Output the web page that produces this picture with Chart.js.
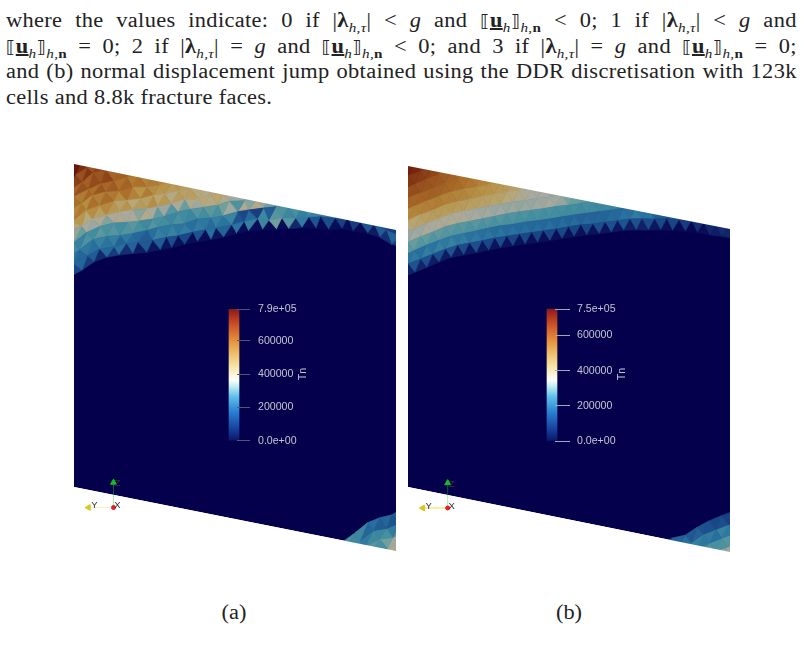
<!DOCTYPE html>
<html>
<head>
<meta charset="utf-8">
<title>Tn</title>
<script src="https://cdn.jsdelivr.net/npm/chart.js@4"></script>
<style>
    html, body { margin: 0; padding: 0; background: #fff; }
    #page { position: relative; width: 804px; height: 653px; overflow: hidden; }
    #page canvas { position: absolute; }
    .line {
        position: absolute; left: 6px; width: 706px; height: 26px; line-height: 26px;
        font-family: "Liberation Serif", serif; font-size: 20px; color: #222; letter-spacing: 0.3px;
        white-space: nowrap; text-align: justify; text-align-last: justify;
        transform-origin: left top; transform: scaleX(1.12);
    }
    .line.last { text-align-last: left; }
    .line sub { font-size: 13.5px; line-height: 0; }
    .caption {
        position: absolute; width: 40px; text-align: center;
        font-family: "Liberation Serif", serif; font-size: 20px; color: #222;
        transform: scaleX(1.12);
    }
    .bk { font-family: "DejaVu Sans", sans-serif; font-size: 17px; }
</style>
</head>
<body>
<div id="page">
    <div class="line" style="top:7px">where the values indicate: 0 if |<b>λ</b><sub><i>h,τ</i></sub>| &lt; <i>g</i> and <span class="bk">⟦</span><u><b>u</b></u><sub><i>h</i></sub><span class="bk">⟧</span><sub><i>h,</i><b>n</b></sub> &lt; 0; 1 if |<b>λ</b><sub><i>h,τ</i></sub>| &lt; <i>g</i> and</div>
    <div class="line" style="top:33px"><span class="bk">⟦</span><u><b>u</b></u><sub><i>h</i></sub><span class="bk">⟧</span><sub><i>h,</i><b>n</b></sub> = 0; 2 if |<b>λ</b><sub><i>h,τ</i></sub>| = <i>g</i> and <span class="bk">⟦</span><u><b>u</b></u><sub><i>h</i></sub><span class="bk">⟧</span><sub><i>h,</i><b>n</b></sub> &lt; 0; and 3 if |<b>λ</b><sub><i>h,τ</i></sub>| = <i>g</i> and <span class="bk">⟦</span><u><b>u</b></u><sub><i>h</i></sub><span class="bk">⟧</span><sub><i>h,</i><b>n</b></sub> = 0;</div>
    <div class="line" style="top:58px">and (b) normal displacement jump obtained using the DDR discretisation with 123k</div>
    <div class="line last" style="top:84px">cells and 8.8k fracture faces.</div>
    <div class="caption" style="left:214px;top:601px">(a)</div>
    <div class="caption" style="left:549px;top:601px">(b)</div>
</div>

<script>
// Tn per triangle in thousands, one list per mesh row (row 0 sits on the rim of the open zone)
const aRow0 = [110,170,95,150,60,175,90,190,70,165,45,140,35,150,30,120,25,110,18,130,20,190,30,165,25,200,20,230,18,250,16,340,20,300,60,220,18,130,14,120,20,100,16,90,15,130,40,150,70,160,90];
const aRow1 = [200,170,215,190,235,200,225,160,210,180,175,150,190,230,215,240,205,225,190,220,210,180,230,200,245,130,110,175,95,255,150,300,290,250,280,230,270,240,260,220,210,180,190,170,150,130,140,110,120,90,100];
const aRow2 = [265,240,290,270,310,285,300,270,295,305,280,260,300,280,270,255,285,265,250,300,270,310,280,340,400,290,430,370,440,390,340,300,310,280,290,270,260,240,230,220,210];
const aRow3 = [385,330,410,395,430,360,425,440,410,420,370,445,410,320,395,300,420,330,440,400,470,450,480,440,420,400,380,350,360,340,330];
const aRow4 = [480,520,470,540,500,550,520,490,530,470,510,495,540,480,520,450,510,490,500,470,450,480,460,440,450];
const aRow5 = [550,575,540,590,565,600,575,545,590,560,530,570,540,520,530,510,520,500,510,490,500];
const aRow6 = [590,570,610,590,640,605,630,590,615,570,590,560,570,550,560,540,550];
const aRow7 = [610,650,620,660,640,670,610,620,600,590,600,580,570];
const aRow8 = [680,650,700,640,680,620,650,630,620,610];
const aRow9 = [770,720,690,700,660,680,650,640];
const aRow10 = [780,740,700,690];

const bRow0 = [50,130,55,125,45,120,40,130,40,115,35,120,35,110,30,115,28,105,25,110,25,105,22,105,22,110,25,105,25,110,28,120,30,125,35,130,45,125,50,115,35,110,25,105,15,90,12,70,20,60,45,70,55,70];
const bRow1 = [200,215,190,225,200,235,215,240,210,225,195,215,190,205,185,200,180,195,178,190,175,188,172,190,170,185,168,180,165,175,165,170,168,180,175,195,190,220,200,200,160,150,140,130,125,110,100,95,90,85,80,75,70,70];
const bRow2 = [310,325,300,320,295,315,300,310,295,305,290,305,285,300,285,300,285,295,280,290,275,285,272,280,270,275,265,270,262,270,265,260,255,250,245,235,225,215,205,190,180,170];
const bRow3 = [390,405,395,420,410,430,420,435,420,425,405,415,395,405,390,400,385,395,380,395,385,400,395,410,400,385,350,330,320,310,295,285,275];
const bRow4 = [470,480,490,500,505,510,505,515,505,510,495,500,490,495,485,490,470,460,440,425,410,405,410,395,380,360];
const bRow5 = [550,555,560,565,565,570,560,565,555,555,545,540,535,530,525,515,505,495,485,470];
const bRow6 = [610,610,615,615,620,615,610,605,600,590,580,570,560,550,540];
const bRow7 = [650,655,650,645,640,635,625,615,600,590,580];
const bRow8 = [700,695,690,680,670,650,640,630];
const bRow9 = [745,735,720,700,685,670];
const bRow10 = [760,740,725,700];

// bottom right corner of each fracture, rows counted down from the corner rim
const aCorner1 = [200,280,260,250,170,190,150,170,130,150];
const aCorner2 = [260,280,270,230,220,260,250,280,220,300];
const aCorner3 = [0,0,260,230,280,300,280,340,400,420];
const aCorner4 = [0,0,0,0,280,320,300,420,440,470];

const bCorner1 = [120,170,160,190,140,160,130,125,110,120,100,100];
const bCorner2 = [200,240,230,255,220,230,210,220,190,240,210,220];
const bCorner3 = [0,280,270,300,280,300,270,300,280,290,300,310];
const bCorner4 = [0,0,0,320,300,340,320,350,340,380,400,420];
const bCorner5 = [0,0,0,0,0,0,370,400,410,420,430,430];

// colour bar ticks
const aBarTicks = [0, 200000, 400000, 600000, 790000];
const bBarTicks = [0, 200000, 400000, 600000, 750000];
const aBarLabels = ['0.0e+00', '200000', '400000', '600000', '7.9e+05'];
const bBarLabels = ['0.0e+00', '200000', '400000', '600000', '7.5e+05'];

const NAVY = '#05004c';

// shaded colours of the fracture surface, Tn in thousands -> colour
const meshStops = [
    [0, '#05004c'], [60, '#12286c'], [120, '#1c4e8c'], [200, '#2a74a0'], [280, '#4690a0'],
    [340, '#70a09c'], [410, '#a8aaa0'], [470, '#b8a878'], [530, '#b89448'], [590, '#ac702a'],
    [650, '#98501e'], [710, '#80300f'], [790, '#640c10']
];

// unlit colour bar
const barStops = [
    [0, '#0a1668'], [0.11, '#1a4aa6'], [0.22, '#2a80d2'], [0.34, '#62c2ea'], [0.41, '#bcecf2'],
    [0.46, '#fbfdf8'], [0.49, '#fcf8e4'], [0.56, '#f6e6aa'], [0.64, '#f0c878'], [0.75, '#e69640'],
    [0.85, '#d4622a'], [0.93, '#b63a20'], [1, '#8a1a1c']
];

function hexToRgb(hex) {
    return [1, 3, 5].map(k => parseInt(hex.slice(k, k + 2), 16));
}

function meshColor(v) {
    for (let k = 1; k < meshStops.length; k++) {
        const [v1, c1] = meshStops[k];
        if (v <= v1) {
            const [v0, c0] = meshStops[k - 1];
            const t = (v - v0) / (v1 - v0);
            const a = hexToRgb(c0), b = hexToRgb(c1);
            return `rgb(${a.map((c, n) => Math.round(c + (b[n] - c) * t)).join(',')})`;
        }
    }
    return meshStops[meshStops.length - 1][1];
}

function rimAt(rim, x) {
    for (let k = 1; k < rim.length; k++) {
        if (x <= rim[k][0]) {
            const t = (x - rim[k - 1][0]) / (rim[k][0] - rim[k - 1][0]);
            return rim[k - 1][1] + (rim[k][1] - rim[k - 1][1]) * t;
        }
    }
    return rim[rim.length - 1][1];
}

// mesh node: ix counts half cells along the rim, level counts rows off the rim
function meshNode(m, rim, ix, level) {
    const x = ix * m.half;
    let y = rimAt(rim, x) - level * m.rowH;
    let dx = 0;
    if (m.wobble) {
        // the coarse mesh is not regular, nudge each node a little
        const h = Math.sin(ix * 12.9898 + level * 78.233) * 43758.5453;
        const h2 = Math.sin(ix * 39.346 + level * 11.135) * 24634.6345;
        dx = (h - Math.floor(h) - 0.5) * m.wobble;
        y += (h2 - Math.floor(h2) - 0.5) * m.wobble;
    }
    return { x: x + dx, y };
}

function triangle(m, rim, i, r, v) {
    const up = (((i + r) % 2) + 2) % 2 === 0;
    const pts = up
        ? [meshNode(m, rim, i - 1, r), meshNode(m, rim, i + 1, r), meshNode(m, rim, i, r + 1)]
        : [meshNode(m, rim, i, r), meshNode(m, rim, i - 1, r + 1), meshNode(m, rim, i + 1, r + 1)];
    pts.push(pts[0]);
    const color = meshColor(v);
    return {
        data: pts, showLine: true, fill: 'shape', tension: 0, pointRadius: 0,
        backgroundColor: color, borderColor: color, borderWidth: 0.7
    };
}

function polygon(points, color) {
    return {
        data: points.concat([points[0]]), showLine: true, fill: 'shape', tension: 0, pointRadius: 0,
        backgroundColor: color, borderColor: color, borderWidth: 0
    };
}

const triadLabels = {
    id: 'triadLabels',
    afterDatasetsDraw(chart, args, opts) {
        const { ctx, scales: { x, y } } = chart;
        ctx.save();
        ctx.font = '9.5px "Liberation Sans"';
        ctx.fillStyle = '#333';
        ctx.textAlign = 'center';
        ctx.textBaseline = 'middle';
        opts.items.forEach(item => ctx.fillText(item.text, x.getPixelForValue(item.x), y.getPixelForValue(item.y)));
        ctx.restore();
    }
};

function drawPanel(m) {
    const canvas = document.createElement('canvas');
    canvas.width = m.w;
    canvas.height = m.h;
    canvas.style.left = m.left + 'px';
    canvas.style.top = m.top + 'px';
    document.getElementById('page').appendChild(canvas);

    const datasets = [];

    // axes triad
    const o = m.origin;
    datasets.push({
        data: [o], showLine: false, pointRadius: 2, pointStyle: 'circle',
        backgroundColor: '#f01818', borderColor: '#f01818'
    });
    datasets.push({
        data: [o, { x: o.x, y: o.y - 25 }], showLine: true, borderWidth: 1, borderColor: m.zLine,
        pointRadius: [0, 3.4], pointStyle: 'triangle', pointRotation: [0, 0],
        backgroundColor: '#12c020', pointBackgroundColor: '#12c020', pointBorderColor: '#12c020'
    });
    datasets.push({
        data: [o, { x: o.x - 25, y: o.y }], showLine: true, borderWidth: 1, borderColor: m.yLine,
        pointRadius: [0, 3.4], pointStyle: 'triangle', pointRotation: [0, -90],
        backgroundColor: '#d8c820', pointBackgroundColor: '#d8c820', pointBorderColor: '#d8c820'
    });

    // page white above and below the slanted fracture edges
    datasets.push(polygon([{ x: 0, y: 0 }, { x: m.w, y: m.topDrop }, { x: m.w, y: 0 }], '#ffffff'));
    datasets.push(polygon([{ x: 0, y: m.leftBottom }, { x: m.w, y: m.rightBottom }, { x: m.w, y: m.h }, { x: 0, y: m.h }], '#ffffff'));

    m.rows.forEach((row, r) => row.forEach((v, i) => {
        if (v > 0) datasets.push(triangle(m, m.rim, i, r, v));
    }));
    m.cornerRows.forEach((row, k) => row.forEach((v, n) => {
        if (v > 0) datasets.push(triangle(m, m.cornerRim, m.cornerStart + n, -k - 1, v));
    }));

    // closed zone of the fracture, Tn = 0
    datasets.push(polygon([{ x: 0, y: 0 }, { x: m.w, y: m.topDrop }, { x: m.w, y: m.rightBottom }, { x: 0, y: m.leftBottom }], NAVY));

    new Chart(canvas, {
        type: 'scatter',
        data: { datasets },
        plugins: [triadLabels],
        options: {
            responsive: false,
            animation: false,
            events: [],
            layout: { padding: 0, autoPadding: false },
            plugins: {
                legend: { display: false },
                tooltip: { enabled: false },
                triadLabels: {
                    items: [
                        { text: 'X', x: o.x + 4, y: o.y - 2 },
                        { text: 'Y', x: o.x - 19, y: o.y - 2 },
                        { text: 'Z', x: o.x + 4, y: o.y - 24 }
                    ]
                }
            },
            scales: {
                x: { type: 'linear', display: false, min: 0, max: m.w },
                y: { type: 'linear', display: false, min: 0, max: m.h, reverse: true }
            }
        }
    });
}

const tnTitle = {
    id: 'tnTitle',
    afterDraw(chart, args, opts) {
        const { ctx, scales: { y } } = chart;
        ctx.save();
        ctx.translate(opts.x, (y.top + y.bottom) / 2 - 1);
        ctx.rotate(-Math.PI / 2);
        ctx.font = '10.6px "Liberation Sans"';
        ctx.fillStyle = opts.color;
        ctx.textAlign = 'center';
        ctx.textBaseline = 'middle';
        ctx.fillText('Tn', 0, 0);
        ctx.restore();
    }
};

function drawColorBar(cb) {
    const canvas = document.createElement('canvas');
    canvas.width = 100;
    canvas.height = 160;
    canvas.style.left = cb.left + 'px';
    canvas.style.top = '295px';
    canvas.style.zIndex = 2;
    document.getElementById('page').appendChild(canvas);

    const top = cb.ticks[cb.ticks.length - 1];

    new Chart(canvas, {
        type: 'bar',
        data: {
            labels: ['Tn'],
            datasets: [{
                data: [[0, top]],
                barThickness: 10,
                borderWidth: 0,
                clip: false,
                backgroundColor(ctx) {
                    const y = ctx.chart.scales.y;
                    const y0 = y ? y.getPixelForValue(0) : NaN;
                    const y1 = y ? y.getPixelForValue(top) : NaN;
                    if (!isFinite(y0) || !isFinite(y1)) return '#888';
                    const g = ctx.chart.ctx.createLinearGradient(0, y0, 0, y1);
                    barStops.forEach(([t, c]) => g.addColorStop(t, c));
                    return g;
                }
            }]
        },
        plugins: [tnTitle],
        options: {
            responsive: false,
            animation: false,
            events: [],
            layout: { padding: { left: 6, right: 0, top: 14, bottom: 14 } },
            plugins: {
                legend: { display: false },
                tooltip: { enabled: false },
                tnTitle: { x: cb.titleX, color: '#c2c5d0' }
            },
            scales: {
                x: { display: false },
                y: {
                    position: 'right',
                    min: 0,
                    max: top,
                    afterFit(scale) { scale.width = 88; },
                    afterBuildTicks(scale) { scale.ticks = cb.ticks.map(value => ({ value })); },
                    border: { display: false },
                    grid: {
                        drawOnChartArea: false, drawTicks: true, tickLength: cb.tickLen,
                        tickColor: cb.tickColor, tickWidth: 1, z: 1
                    },
                    ticks: {
                        autoSkip: false, padding: cb.labelGap, color: '#c2c5d0',
                        font: { family: 'Liberation Sans', size: 10.6 },
                        callback: (value) => cb.labels[cb.ticks.indexOf(value)]
                    }
                }
            }
        }
    });
}

drawPanel({
    left: 74, top: 164, w: 322, h: 388, topDrop: 66, leftBottom: 323, rightBottom: 387,
    half: 6.5, rowH: 11, wobble: 3,
    rim: [[-20, 120], [0, 111], [23, 96], [86, 86], [166, 69], [216, 64], [276, 66], [306, 74], [322, 81], [345, 90]],
    cornerRim: [[240, 392], [271, 377], [295, 358], [322, 349], [345, 340]],
    cornerStart: 41,
    rows: [aRow0, aRow1, aRow2, aRow3, aRow4, aRow5, aRow6, aRow7, aRow8, aRow9, aRow10],
    cornerRows: [aCorner1, aCorner2, aCorner3, aCorner4],
    origin: { x: 39.5, y: 343.5 },
    zLine: 'rgba(40,210,60,0.4)', yLine: 'rgba(235,215,70,0.35)'
});

drawPanel({
    left: 408, top: 166, w: 322, h: 387, topDrop: 63, leftBottom: 321, rightBottom: 386,
    half: 6.15, rowH: 11, wobble: 0.8,
    rim: [[-20, 118], [0, 109], [42, 92], [92, 82], [159, 72], [219, 64], [259, 64], [292, 67], [322, 72], [345, 76]],
    cornerRim: [[230, 392], [259, 373], [279, 369], [295, 357], [322, 347], [345, 338]],
    cornerStart: 42,
    rows: [bRow0, bRow1, bRow2, bRow3, bRow4, bRow5, bRow6, bRow7, bRow8, bRow9, bRow10],
    cornerRows: [bCorner1, bCorner2, bCorner3, bCorner4, bCorner5],
    origin: { x: 39.7, y: 342 },
    zLine: 'rgba(40,210,60,0.4)', yLine: 'rgba(230,220,40,0.85)'
});

drawColorBar({ left: 225, ticks: aBarTicks, labels: aBarLabels, tickLen: 13, labelGap: 8, tickColor: '#50557a', titleX: 78 });
drawColorBar({ left: 543, ticks: bBarTicks, labels: bBarLabels, tickLen: 15, labelGap: 7, tickColor: '#a0a8b8', titleX: 79 });
</script>
</body>
</html>
